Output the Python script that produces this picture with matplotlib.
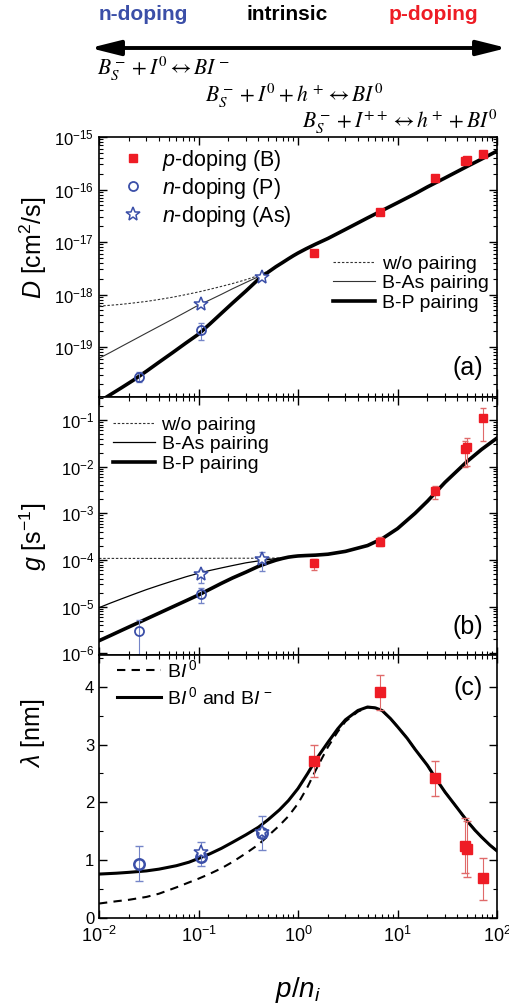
import numpy as np
import matplotlib
matplotlib.use("Agg")
import matplotlib.pyplot as plt
from matplotlib.patches import FancyArrowPatch
from matplotlib.ticker import LogLocator, NullFormatter, MultipleLocator

plt.rcParams['font.family'] = ['Liberation Sans', 'DejaVu Sans']
plt.rcParams['mathtext.fontset'] = 'custom'
plt.rcParams['mathtext.rm'] = 'Liberation Sans'
plt.rcParams['mathtext.it'] = 'Liberation Sans:italic'
plt.rcParams['mathtext.bf'] = 'Liberation Sans:bold'

# ---------------- data ----------------
# measured points
X_B = [1.45, 6.7, 23.8, 47.5, 50.2, 71.8]            # p-doping (B)
X_P = [0.0252, 0.106]                                 # n-doping (P)
X_AS = [0.106, 0.431]                                 # n-doping (As)
X_P_C = [0.0252, 0.106, 0.431]                        # n-doping (P) in panel (c)

D_B = [6.3e-18, 3.7e-17, 1.68e-16, 3.5e-16, 3.6e-16, 4.8e-16]
D_B_LO = [5.6e-18, 3.3e-17, 1.55e-16, 3.25e-16, 3.35e-16, 4.4e-16]
D_B_HI = [6.9e-18, 4.1e-17, 1.82e-16, 3.75e-16, 3.85e-16, 5.2e-16]
D_P = [2.75e-20, 2.1e-19]
D_P_LO = [2.14e-20, 1.38e-19]
D_P_HI = [3.3e-20, 2.85e-19]
D_AS = [6.6e-19, 2.2e-18]

G_B = [8.8e-5, 2.46e-4, 3.05e-3, 2.35e-2, 2.7e-2, 0.109]
G_B_LO = [6.2e-5, 1.95e-4, 2.0e-3, 1.0e-2, 1.05e-2, 3.6e-2]
G_B_HI = [1.05e-4, 3.1e-4, 3.9e-3, 3.6e-2, 4.1e-2, 0.178]
G_P = [3.05e-6, 1.86e-5]
G_P_LO = [9.1e-7, 1.17e-5]
G_P_HI = [5.1e-6, 2.46e-5]
G_AS = [5.0e-5, 1.05e-4]
G_AS_LO = [3.2e-5, 5.9e-5]
G_AS_HI = [6.2e-5, 1.46e-4]

L_B = [2.72, 3.91, 2.43, 1.25, 1.20, 0.69]
L_B_LO = [2.44, 3.60, 2.11, 0.78, 0.71, 0.31]
L_B_HI = [3.00, 4.20, 2.72, 1.73, 1.67, 1.04]
L_P = [0.94, 1.05, 1.47]
L_P_LO = [0.64, 0.90, 1.18]
L_P_HI = [1.24, 1.31, 1.77]
L_AS = [1.15, 1.49]

# model curves, panels (a) and (b)
X_CURVE = [0.01, 0.013, 0.017, 0.022, 0.03, 0.04, 0.055, 0.075, 0.1, 0.13, 0.17, 0.22,
           0.3, 0.4, 0.5, 0.6, 0.7, 0.8, 0.9, 1.0, 1.2, 1.5, 2.0, 3.0, 5.0, 7.0, 10.0,
           15.0, 20.0, 30.0, 50.0, 70.0, 100.0]
D_BP = [9.1e-21, 1.24e-20, 1.7e-20, 2.32e-20, 3.47e-20, 5.13e-20, 7.85e-20, 1.2e-19,
        1.76e-19, 2.75e-19, 4.4e-19, 6.9e-19, 1.17e-18, 1.95e-18, 2.66e-18, 3.39e-18,
        4.07e-18, 4.79e-18, 5.5e-18, 6.17e-18, 7.4e-18, 9.1e-18, 1.17e-17, 1.74e-17,
        2.88e-17, 3.98e-17, 5.6e-17, 8.3e-17, 1.12e-16, 1.66e-16, 2.75e-16, 3.8e-16, 5.4e-16]
G_BP = [1.86e-6, 2.4e-6, 3.13e-6, 4.03e-6, 5.46e-6, 7.24e-6, 9.9e-6, 1.34e-5, 1.78e-5,
        2.36e-5, 3.16e-5, 4.12e-5, 5.5e-5, 7.3e-5, 8.7e-5, 9.9e-5, 1.08e-4, 1.15e-4,
        1.19e-4, 1.22e-4, 1.245e-4, 1.27e-4, 1.33e-4, 1.53e-4, 2.04e-4, 2.85e-4, 4.7e-4,
        1.0e-3, 1.82e-3, 4.6e-3, 1.29e-2, 2.34e-2, 4.1e-2]

X_SHORT = [0.01, 0.013, 0.017, 0.022, 0.03, 0.04, 0.055, 0.075, 0.1, 0.13, 0.17, 0.22,
           0.3, 0.4, 0.5, 0.6, 0.7, 0.8]
D_NOPAIR = [6.03e-19, 6.25e-19, 6.53e-19, 6.9e-19, 7.4e-19, 8.05e-19, 8.9e-19, 1.0e-18,
            1.12e-18, 1.26e-18, 1.43e-18, 1.62e-18, 1.92e-18, 2.3e-18, 2.8e-18, 3.45e-18,
            4.1e-18, 4.79e-18]
D_BAS = [6.1e-20, 7.9e-20, 1.04e-19, 1.35e-19, 1.85e-19, 2.47e-19, 3.4e-19, 4.67e-19,
         6.3e-19, 7.9e-19, 1.01e-18, 1.29e-18, 1.7e-18, 2.19e-18, 2.68e-18, 3.39e-18,
         4.07e-18, 4.79e-18]
G_NOPAIR = [1.08e-4, 1.08e-4, 1.08e-4, 1.08e-4, 1.08e-4, 1.08e-4, 1.08e-4, 1.085e-4,
            1.085e-4, 1.085e-4, 1.09e-4, 1.09e-4, 1.09e-4, 1.09e-4, 1.095e-4, 1.1e-4,
            1.12e-4, 1.15e-4]
G_BAS = [9.5e-6, 1.19e-5, 1.48e-5, 1.82e-5, 2.32e-5, 2.85e-5, 3.55e-5, 4.37e-5, 5.2e-5,
         5.96e-5, 6.76e-5, 7.6e-5, 8.7e-5, 9.55e-5, 1.02e-4, 1.07e-4, 1.11e-4, 1.15e-4]

# model curves, panel (c)
X_LAM = [0.01, 0.015, 0.02, 0.03, 0.04, 0.06, 0.08, 0.1, 0.13, 0.17, 0.22, 0.3, 0.4,
         0.5, 0.65, 0.8, 1.0, 1.25, 1.5, 2.0, 2.5, 3.0, 4.0, 5.0, 6.0, 7.0, 8.5, 10.0,
         12.5, 15.0, 20.0, 25.0, 30.0, 40.0, 50.0, 60.0, 70.0, 85.0, 100.0]
L_BOTH = [0.76, 0.775, 0.79, 0.815, 0.845, 0.905, 0.965, 1.03, 1.11, 1.205, 1.31, 1.44,
          1.57, 1.70, 1.87, 2.03, 2.24, 2.50, 2.73, 3.04, 3.27, 3.43, 3.59, 3.65, 3.635,
          3.59, 3.45, 3.31, 3.11, 2.92, 2.64, 2.38, 2.18, 1.90, 1.68, 1.52, 1.40, 1.26, 1.16]
L_I0 = [0.25, 0.29, 0.315, 0.365, 0.42, 0.53, 0.615, 0.68, 0.765, 0.86, 0.97, 1.12,
        1.27, 1.42, 1.60, 1.76, 1.98, 2.27, 2.55, 2.96, 3.22, 3.40, 3.57, 3.645, 3.635,
        3.59, 3.45, 3.31, 3.11, 2.92, 2.64, 2.38, 2.18, 1.90, 1.68, 1.52, 1.40, 1.26, 1.16]

# ---------------- style ----------------
RED = '#ee1c25'
RED_ERR = '#e06a6a'
BLUE = '#3b4fa8'
BLUE_ERR = '#7585c8'

W, H = 509, 1007
fig = plt.figure(figsize=(W / 100, H / 100), dpi=100)

def fx(px):
    return px / W

def fy(py):
    return 1 - py / H

L0, R0 = 99, 497
axA = fig.add_axes([fx(L0), fy(397), (R0 - L0) / W, 260 / H])
axB = fig.add_axes([fx(L0), fy(655), (R0 - L0) / W, 258 / H])
axC = fig.add_axes([fx(L0), fy(918), (R0 - L0) / W, 263 / H])

def errs(v, lo, hi):
    v = np.asarray(v); lo = np.asarray(lo); hi = np.asarray(hi)
    return [v - lo, hi - v]

for ax in (axA, axB, axC):
    ax.set_xscale('log')
    ax.set_xlim(0.01, 100)
    ax.tick_params(which='both', direction='in', top=True, right=True, labelsize=12)
    ax.tick_params(which='major', length=6, width=1.0)
    ax.tick_params(which='minor', length=3, width=0.8)
    ax.xaxis.set_major_locator(LogLocator(base=10, numticks=10))
    ax.xaxis.set_minor_locator(LogLocator(base=10, subs=np.arange(2, 10), numticks=10))
    for s in ax.spines.values():
        s.set_linewidth(1.2)

for ax in (axA, axB):
    ax.set_yscale('log')
    ax.yaxis.set_major_locator(LogLocator(base=10, numticks=20))
    ax.yaxis.set_minor_locator(LogLocator(base=10, subs=np.arange(2, 10), numticks=20))
    ax.yaxis.set_minor_formatter(NullFormatter())
    ax.tick_params(axis='x', labelbottom=False)

# ---------------- panel (a) ----------------
axA.set_ylim(1.12e-20, 1.0e-15)
lA1, = axA.plot(X_SHORT, D_NOPAIR, color='#333333', lw=0.8, ls=(0, (2.2, 1.6)), label='w/o pairing')
lA2, = axA.plot(X_SHORT, D_BAS, color='#333333', lw=0.8, label='B-As pairing')
lA3, = axA.plot(X_CURVE, D_BP, color='black', lw=2.6, label='B-P pairing')
axA.errorbar(X_B, D_B, yerr=errs(D_B, D_B_LO, D_B_HI), fmt='none', ecolor=RED_ERR, elinewidth=0.8, capsize=2.5)
axA.errorbar(X_P, D_P, yerr=errs(D_P, D_P_LO, D_P_HI), fmt='none', ecolor=BLUE_ERR, elinewidth=0.8, capsize=2.5)
mA1, = axA.plot(X_B, D_B, 's', color=RED, ms=6, mec=RED, label='$p$-doping (B)')
mA2, = axA.plot(X_P, D_P, 'o', mfc='none', mec=BLUE, mew=1.3, ms=6.5, label='$n$-doping (P)')
mA3, = axA.plot(X_AS, D_AS, '*', mfc='white', mec=BLUE, mew=1.1, ms=10, label='$n$-doping (As)')

legA1 = axA.legend(handles=[mA1, mA2, mA3], loc='upper left', bbox_to_anchor=(23 / 398, 1 - 11 / 260),
                   frameon=False, fontsize=15.5, handlelength=1.0, handletextpad=0.85,
                   borderpad=0, borderaxespad=0, labelspacing=0.13)
axA.add_artist(legA1)
axA.legend(handles=[lA1, lA2, lA3], loc='upper left', bbox_to_anchor=((333 - L0) / 398, (397 - 255) / 260),
           frameon=False, fontsize=14, handlelength=2.16, handletextpad=0.35,
           borderpad=0, borderaxespad=0, labelspacing=0.1)
axA.text(0.965, 0.11, '(a)', transform=axA.transAxes, ha='right', va='center', fontsize=18)

# ---------------- panel (b) ----------------
axB.set_ylim(9.2e-7, 0.311)
lB1, = axB.plot(X_SHORT, G_NOPAIR, color='#333333', lw=0.8, ls=(0, (2.2, 1.6)), label='w/o pairing')
lB2, = axB.plot(X_SHORT, G_BAS, color='black', lw=0.9, label='B-As pairing')
lB3, = axB.plot(X_CURVE, G_BP, color='black', lw=2.6, label='B-P pairing')
axB.errorbar(X_B, G_B, yerr=errs(G_B, G_B_LO, G_B_HI), fmt='none', ecolor=RED_ERR, elinewidth=0.8, capsize=2.5)
axB.errorbar(X_P, G_P, yerr=errs(G_P, G_P_LO, G_P_HI), fmt='none', ecolor=BLUE_ERR, elinewidth=0.8, capsize=2.5)
axB.errorbar(X_AS, G_AS, yerr=errs(G_AS, G_AS_LO, G_AS_HI), fmt='none', ecolor=BLUE_ERR, elinewidth=0.8, capsize=2.5)
axB.plot(X_B, G_B, 's', color=RED, ms=6)
axB.plot(X_P, G_P, 'o', mfc='none', mec=BLUE, mew=1.3, ms=6.5)
axB.plot(X_AS, G_AS, '*', mfc='white', mec=BLUE, mew=1.1, ms=10)
axB.legend(handles=[lB1, lB2, lB3], loc='upper left', bbox_to_anchor=((112.7 - L0) / 398, (655 - 416) / 258),
           frameon=False, fontsize=14, handlelength=2.16, handletextpad=0.35,
           borderpad=0, borderaxespad=0, labelspacing=0.1)
axB.text(0.965, 0.11, '(b)', transform=axB.transAxes, ha='right', va='center', fontsize=18)

# ---------------- panel (c) ----------------
axC.set_ylim(0, 4.55)
axC.yaxis.set_major_locator(MultipleLocator(1))
axC.yaxis.set_minor_locator(MultipleLocator(0.5))
lC1, = axC.plot(X_LAM, L_I0, color='black', lw=1.5, ls=(0, (4, 3)), label='B$I^{\\,0}$')
lC2, = axC.plot(X_LAM, L_BOTH, color='black', lw=2.2, label='B$I^{\\,0}$ and B$I^{\\,-}$')
axC.errorbar(X_B, L_B, yerr=errs(L_B, L_B_LO, L_B_HI), fmt='none', ecolor=RED_ERR, elinewidth=0.8, capsize=3)
axC.errorbar(X_P_C, L_P, yerr=errs(L_P, L_P_LO, L_P_HI), fmt='none', ecolor=BLUE_ERR, elinewidth=0.8, capsize=3)
axC.plot(X_B, L_B, 's', color=RED, ms=7.5)
axC.plot(X_P_C, L_P, 'o', mfc='none', mec=BLUE, mew=1.8, ms=7.5)
axC.plot(X_AS, L_AS, '*', mfc='white', mec=BLUE, mew=1.1, ms=10)
axC.legend(handles=[lC1, lC2], loc='upper left', bbox_to_anchor=((116.7 - L0) / 398, 1 - 4 / 263),
           frameon=False, fontsize=14, handlelength=2.3, handletextpad=0.3,
           borderpad=0, borderaxespad=0, labelspacing=0.25)
axC.text(0.965, 0.875, '(c)', transform=axC.transAxes, ha='right', va='center', fontsize=18)
axC.tick_params(axis='x', labelsize=13, pad=6)

# ---------------- labels ----------------
fig.text(fx(33), fy(248), '$D$ [cm$^2$/s]', rotation=90, ha='center', va='center', fontsize=18)
fig.text(fx(33), fy(537), '$g$ [s$^{-1}$]', rotation=90, ha='center', va='center', fontsize=18)
fig.text(fx(33), fy(733), '$\\lambda$ [nm]', rotation=90, ha='center', va='center', fontsize=18)
fig.text(fx(298), fy(990), '$p/n_i$', ha='center', va='center', fontsize=20)

# ---------------- top annotation ----------------
fig.text(fx(143), fy(15), 'n-doping', color=BLUE, fontweight='bold', ha='center', va='center', fontsize=15)
fig.text(fx(287), fy(15), 'intrinsic', color='black', fontweight='bold', ha='center', va='center', fontsize=15)
fig.text(fx(433), fy(15), 'p-doping', color=RED, fontweight='bold', ha='center', va='center', fontsize=15)

arrow = FancyArrowPatch(posA=(fx(90), fy(48)), posB=(fx(507), fy(48)), transform=fig.transFigure,
                        arrowstyle='<|-|>,head_length=1.8,head_width=0.45', mutation_scale=10,
                        lw=2.8, color='black', shrinkA=0, shrinkB=0)
fig.add_artist(arrow)

fig.text(fx(97), fy(75), '$B_S^- + I^0 \\leftrightarrow BI^-$', ha='left', va='baseline',
         fontsize=15.5, math_fontfamily='stix')
fig.text(fx(205), fy(101.7), '$B_S^- + I^0 + h^+ \\leftrightarrow BI^0$', ha='left', va='baseline',
         fontsize=15.5, math_fontfamily='stix')
fig.text(fx(498), fy(128), '$B_S^- + I^{++} \\leftrightarrow h^+ + BI^0$', ha='right', va='baseline',
         fontsize=15.5, math_fontfamily='stix')

fig.savefig('out.png', dpi=100)
